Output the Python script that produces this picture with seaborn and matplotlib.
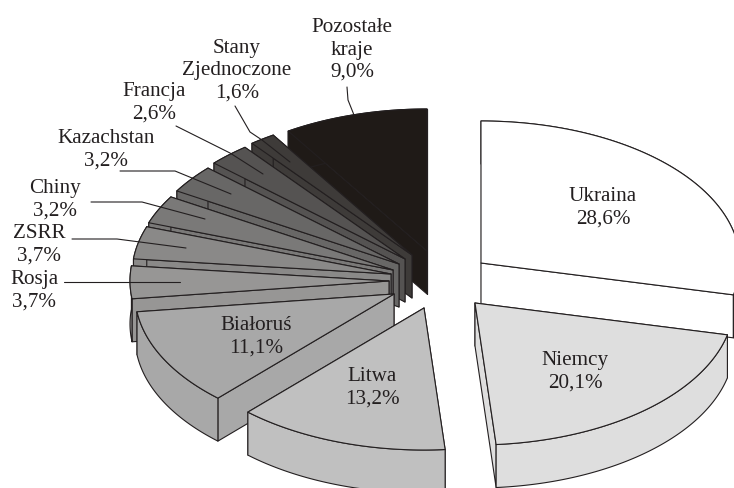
import numpy as np
import matplotlib
matplotlib.use("Agg")
import matplotlib.pyplot as plt
import seaborn as sns

# shares in percent, clockwise from 12 o'clock
countries = ["Ukraina", "Niemcy", "Litwa", "Białoruś", "Rosja", "ZSRR", "Chiny",
             "Kazachstan", "Francja", "Stany\nZjednoczone", "Pozostałe\nkraje"]
shares = [28.6, 20.1, 13.2, 11.1, 3.7, 3.7, 3.2, 3.2, 2.6, 1.6, 9.0]

# layout, in pixels of the 734x488 picture
greys = ["#ffffff", "#dedede", "#c0c0c0", "#a8a8a8", "#979695", "#8a8988", "#7a7978",
         "#686766", "#555352", "#3e3b39", "#1f1a17"]
apex_x = [481, 475, 424, 394, 389, 391, 393, 399, 405, 412, 427]
apex_y = [263, 303, 308, 294, 281, 274, 270, 264, 259, 255, 251]
draw_order = [10, 9, 8, 7, 6, 5, 4, 3, 0, 1, 2]
label_x = [603, 575, 372, 256, 34, 39, 55, 106, 154, 237, 352]
label_y = [208, 372, 388, 337, 291, 245, 200, 150, 103, 71, 50]
leaders = {
    4: [(64, 282), (180, 282)],
    5: [(72, 239), (117, 239), (186, 248)],
    6: [(91, 202), (142, 202), (205, 219)],
    7: [(120, 171), (175, 171), (231, 194)],
    8: [(176, 126), (230, 153), (263, 174)],
    9: [(235, 106), (250, 132), (262, 140), (290, 162)],
    10: [(347, 87), (348, 100), (354, 115)],
}
RX, RY, DEPTH = 259, 142, 43
INK = "#231f20"


def arc(i, a0, a1):
    t = np.radians(np.linspace(a0, a1, 80))
    return apex_x[i] + RX * np.sin(t), apex_y[i] - RY * np.cos(t)


def draw_slice(ax, i, a0, a1):
    style = dict(facecolor=greys[i], edgecolor=INK, linewidth=0.8, joinstyle="round")
    x, y = arc(i, a0, a1)
    # radial walls first, the one facing us last; rim and top paint over what is hidden
    walls = [(x[0], y[0]), (x[-1], y[-1])]
    if a1 > 180:
        walls.reverse()
    for xr, yr in walls:
        ax.fill([apex_x[i], xr, xr, apex_x[i]],
                [apex_y[i], yr, yr + DEPTH, apex_y[i] + DEPTH], **style)
    ax.fill(np.r_[x, x[::-1]], np.r_[y, y[::-1] + DEPTH], **style)
    ax.fill(np.r_[apex_x[i], x], np.r_[apex_y[i], y], **style)


def main():
    sns.set_theme(style="white")
    plt.rcParams["font.family"] = ["Liberation Serif", "DejaVu Serif"]

    fig = plt.figure(figsize=(7.34, 4.88), dpi=100)
    ax = fig.add_axes([0, 0, 1, 1])
    ax.set_xlim(0, 734)
    ax.set_ylim(488, 0)
    ax.axis("off")

    edges = np.r_[0, np.cumsum(shares)] / sum(shares) * 360
    for i in draw_order:
        draw_slice(ax, i, edges[i], edges[i + 1])

    for pts in leaders.values():
        xs, ys = zip(*pts)
        ax.plot(xs, ys, color=INK, lw=0.8)

    for name, share, x, y in zip(countries, shares, label_x, label_y):
        text = f"{name}\n{share:.1f}%".replace(".", ",")
        ax.text(x, y, text, ha="center", va="center", fontsize=15.2, color=INK, linespacing=1.25)

    fig.savefig("out.png", dpi=100)


if __name__ == "__main__":
    main()
